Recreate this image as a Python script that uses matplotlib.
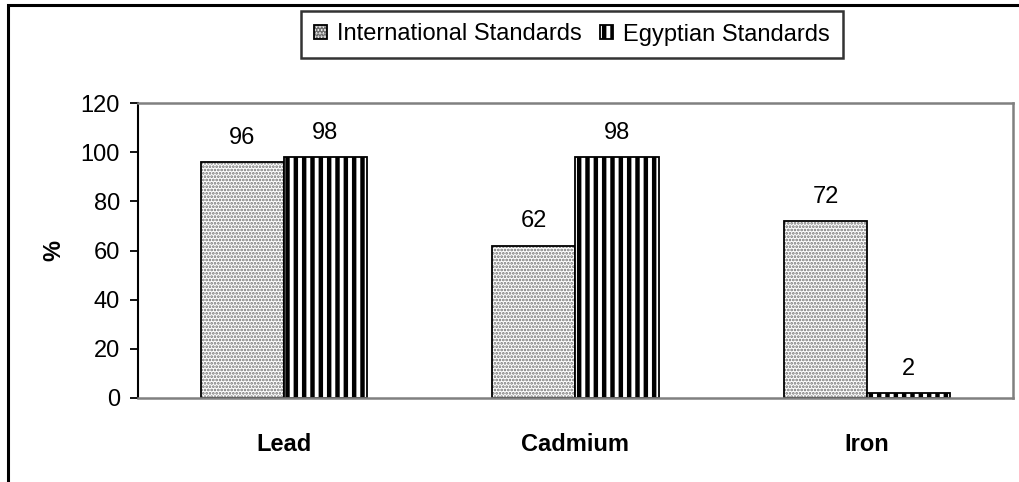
import numpy as np
import matplotlib
matplotlib.use('Agg')
import matplotlib.pyplot as plt
from matplotlib.patches import Rectangle

plt.rcParams['font.family'] = ['Liberation Sans', 'DejaVu Sans']

metals = ['Lead', 'Cadmium', 'Iron']
international = [96, 62, 72]
egyptian = [98, 98, 2]
series_names = ['International Standards', 'Egyptian Standards']

FS = 17

fig = plt.figure(figsize=(10.2, 4.82), dpi=100)
ax = fig.add_axes([138 / 1020, 1 - 398 / 482, 875 / 1020, 295 / 482])

x = np.arange(len(metals))
w = 0.285

# dotted fill for the international series, heavy stripes for the egyptian one
plt.rcParams['hatch.linewidth'] = 1.3
plt.rcParams['hatch.color'] = '#707070'
b1 = ax.bar(x - w / 2, international, w, facecolor='white', edgecolor='black',
            linewidth=1.3, hatch='.....', label=series_names[0])
plt.rcParams['hatch.linewidth'] = 3.2
plt.rcParams['hatch.color'] = 'black'
b2 = ax.bar(x + w / 2, egyptian, w, facecolor='white', edgecolor='black',
            linewidth=1.3, hatch='||', label=series_names[1])
for p in b1:
    p._hatch_color = (0.44, 0.44, 0.44, 1)
for p in b2:
    p._hatch_color = (0, 0, 0, 1)

for bars in (b1, b2):
    for p in bars:
        h = p.get_height()
        ax.annotate('%d' % h, (p.get_x() + p.get_width() / 2, h),
                    xytext=(0, 9.5), textcoords='offset points',
                    ha='center', va='bottom', fontsize=FS)

ax.set_xlim(-0.5, 2.5)
ax.set_ylim(0, 120)
ax.set_yticks(range(0, 121, 20))
ax.tick_params(axis='y', labelsize=FS, length=6, width=1.3, direction='out', pad=7)
ax.set_xticks(x)
ax.set_xticklabels(metals, fontsize=FS, fontweight='bold')
ax.tick_params(axis='x', length=0, pad=25)
ax.set_ylabel('%', fontsize=FS, fontweight='bold')
ax.yaxis.set_label_coords(-0.083, 0.5)

ax.spines['left'].set_color('black')
ax.spines['left'].set_linewidth(1.5)
for s in ('top', 'right', 'bottom'):
    ax.spines[s].set_color('#808080')
    ax.spines[s].set_linewidth(1.8)

leg = fig.legend(loc='center', bbox_to_anchor=(572 / 1020, 1 - 34.5 / 482),
                 ncol=2, fontsize=FS, frameon=True, fancybox=False,
                 edgecolor='black', handlelength=0.55, handleheight=0.55,
                 handletextpad=0.45, columnspacing=0.75, borderpad=0.55,
                 borderaxespad=0)
leg.get_frame().set_linewidth(1.8)

# outer chart frame (only left and top edges fall inside the image)
fig.add_artist(Rectangle((8 / 1020, -0.2), 1.5, 1.2 - 5 / 482,
                         transform=fig.transFigure, fill=False,
                         edgecolor='black', linewidth=2.2))

fig.savefig('out.png', dpi=100)
